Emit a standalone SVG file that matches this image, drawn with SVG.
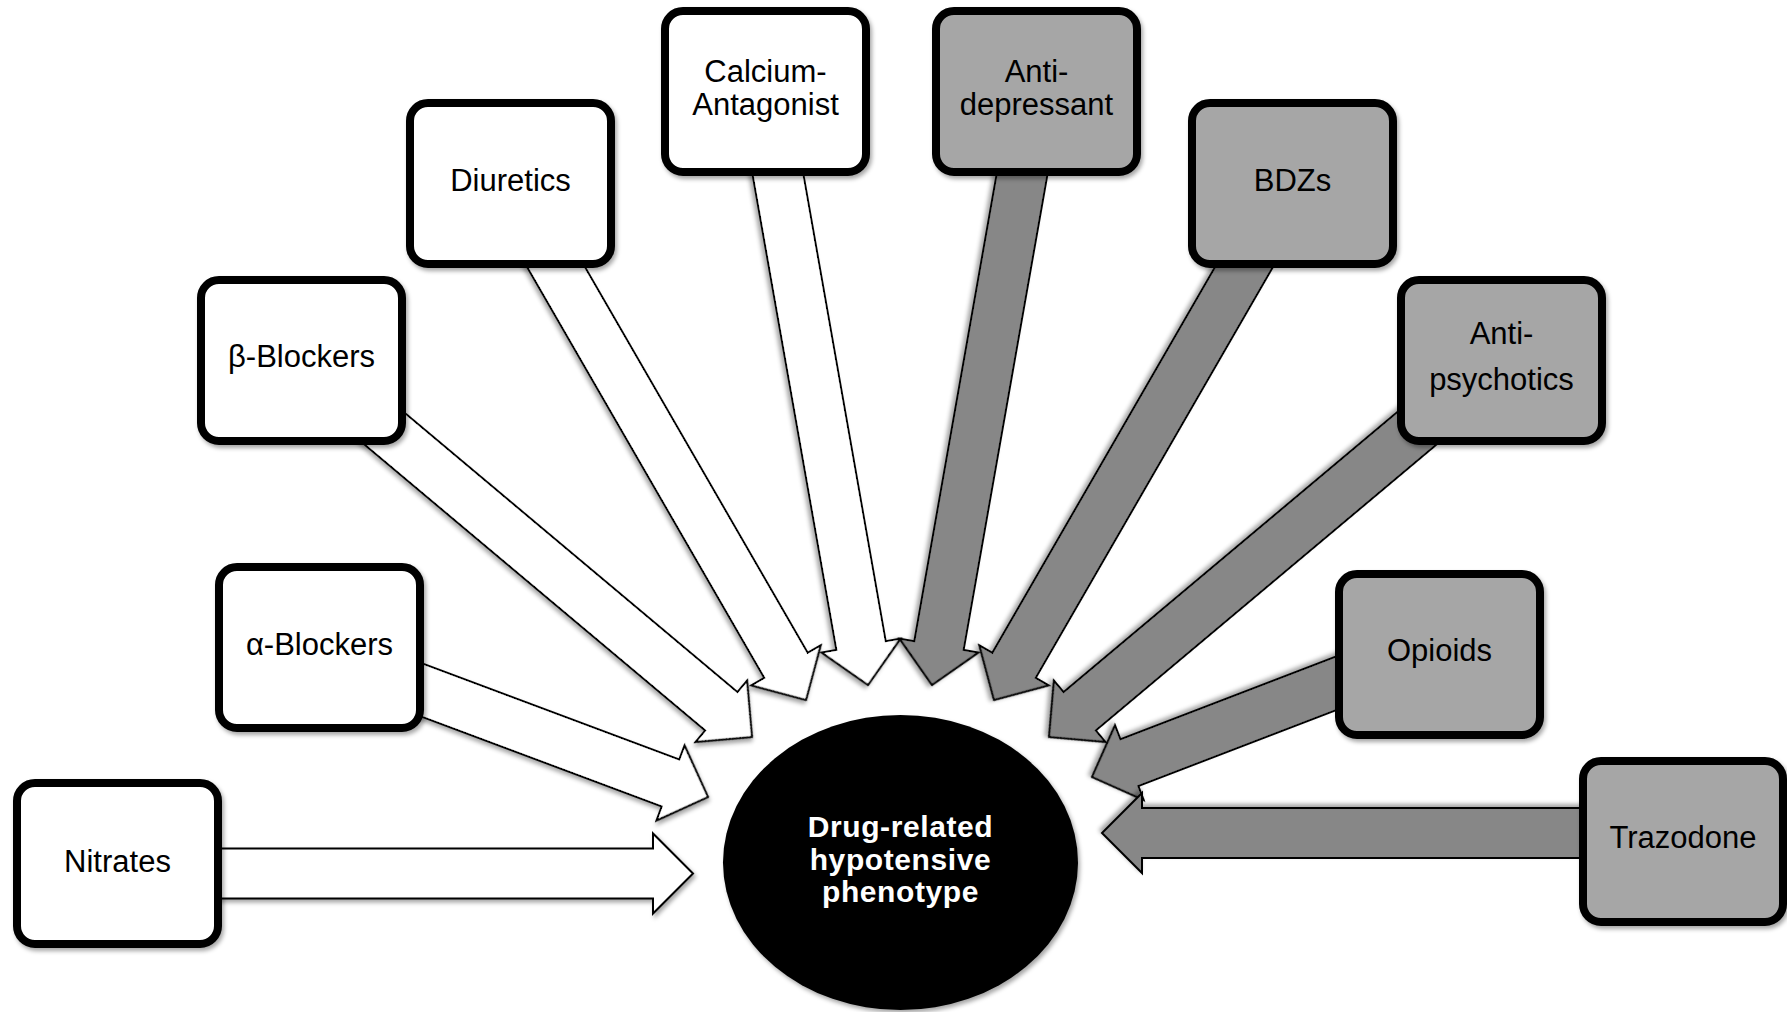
<svg xmlns="http://www.w3.org/2000/svg" width="1787" height="1012" viewBox="0 0 1787 1012">
<defs>
<filter id="sh" x="-20%" y="-20%" width="140%" height="140%">
<feDropShadow dx="2" dy="3" stdDeviation="2" flood-color="#000" flood-opacity="0.35"/>
</filter>
<style>
.bw{fill:#ffffff;stroke:#000;stroke-width:8;filter:url(#sh)}
.bg{fill:#a6a6a6;stroke:#000;stroke-width:8;filter:url(#sh)}
.aw{fill:#ffffff;stroke:#000;stroke-width:2;stroke-linejoin:miter;filter:url(#sh)}
.ag{fill:#878787;stroke:#000;stroke-width:2;stroke-linejoin:miter;filter:url(#sh)}
.t{font-family:"Liberation Sans",Arial,sans-serif;font-size:31px;fill:#000;text-anchor:middle}
.c{font-family:"Liberation Sans",Arial,sans-serif;font-size:30px;font-weight:bold;letter-spacing:0.6px;fill:#fff;text-anchor:middle}
</style>
</defs>
<rect width="1787" height="1012" fill="#fff"/>
<g id="connectors">
<path class="aw" transform="translate(693,873.5)" d="M-560,-25 L-40,-25 L-40,-40 L0,0 L-40,40 L-40,25 L-560,25 Z"/>
<path class="aw" transform="translate(708,797) rotate(20.5)" d="M-400,-25 L-40,-25 L-40,-40 L0,0 L-40,40 L-40,25 L-400,25 Z"/>
<path class="aw" transform="translate(752,737) rotate(40)" d="M-560,-25 L-40,-25 L-40,-40 L0,0 L-40,40 L-40,25 L-560,25 Z"/>
<path class="aw" transform="translate(806,700) rotate(60)" d="M-560,-25 L-40,-25 L-40,-40 L0,0 L-40,40 L-40,25 L-560,25 Z"/>
<path class="aw" transform="translate(868,685) rotate(80)" d="M-560,-25 L-40,-25 L-40,-40 L0,0 L-40,40 L-40,25 L-560,25 Z"/>
<path class="ag" transform="translate(932,685) rotate(100)" d="M-560,-25 L-40,-25 L-40,-40 L0,0 L-40,40 L-40,25 L-560,25 Z"/>
<path class="ag" transform="translate(994,700) rotate(120)" d="M-560,-25 L-40,-25 L-40,-40 L0,0 L-40,40 L-40,25 L-560,25 Z"/>
<path class="ag" transform="translate(1049,737) rotate(140)" d="M-560,-25 L-40,-25 L-40,-40 L0,0 L-40,40 L-40,25 L-560,25 Z"/>
<path class="ag" transform="translate(1092,777) rotate(159)" d="M-380,-25 L-40,-25 L-40,-40 L0,0 L-40,40 L-40,25 L-380,25 Z"/>
<path class="ag" transform="translate(1102,833) rotate(180)" d="M-560,-25 L-40,-25 L-40,-40 L0,0 L-40,40 L-40,25 L-560,25 Z"/>
</g>
<g id="center">
<ellipse cx="900.5" cy="862.5" rx="177.5" ry="147.5" fill="#000" filter="url(#sh)"/>
<text class="c" x="900.5" y="837">Drug-related</text>
<text class="c" x="900.5" y="870">hypotensive</text>
<text class="c" x="900.5" y="902">phenotype</text>
</g>
<g id="nitrates"><rect class="bw" x="17" y="783" width="201" height="161" rx="18"/><text class="t" x="117.5" y="872">Nitrates</text></g>
<g id="alpha-blockers"><rect class="bw" x="219" y="567" width="201" height="161" rx="18"/><text class="t" x="319.5" y="655">α-Blockers</text></g>
<g id="beta-blockers"><rect class="bw" x="201" y="280" width="201" height="161" rx="18"/><text class="t" x="301.5" y="367">β-Blockers</text></g>
<g id="diuretics"><rect class="bw" x="410" y="103" width="201" height="161" rx="18"/><text class="t" x="510.5" y="191">Diuretics</text></g>
<g id="calcium-antagonist"><rect class="bw" x="665" y="11" width="201" height="161" rx="18"/><text class="t" x="765.5" y="82">Calcium-</text><text class="t" x="765.5" y="115">Antagonist</text></g>
<g id="antidepressant"><rect class="bg" x="936" y="11" width="201" height="161" rx="18"/><text class="t" x="1036.5" y="82">Anti-</text><text class="t" x="1036.5" y="115">depressant</text></g>
<g id="bdzs"><rect class="bg" x="1192" y="103" width="201" height="161" rx="18"/><text class="t" x="1292.5" y="191">BDZs</text></g>
<g id="antipsychotics"><rect class="bg" x="1401" y="280" width="201" height="161" rx="18"/><text class="t" x="1501.5" y="344">Anti-</text><text class="t" x="1501.5" y="390">psychotics</text></g>
<g id="opioids"><rect class="bg" x="1339" y="574" width="201" height="161" rx="18"/><text class="t" x="1439.5" y="661">Opioids</text></g>
<g id="trazodone"><rect class="bg" x="1583" y="761" width="200" height="161" rx="18"/><text class="t" x="1683" y="848">Trazodone</text></g>
</svg>
